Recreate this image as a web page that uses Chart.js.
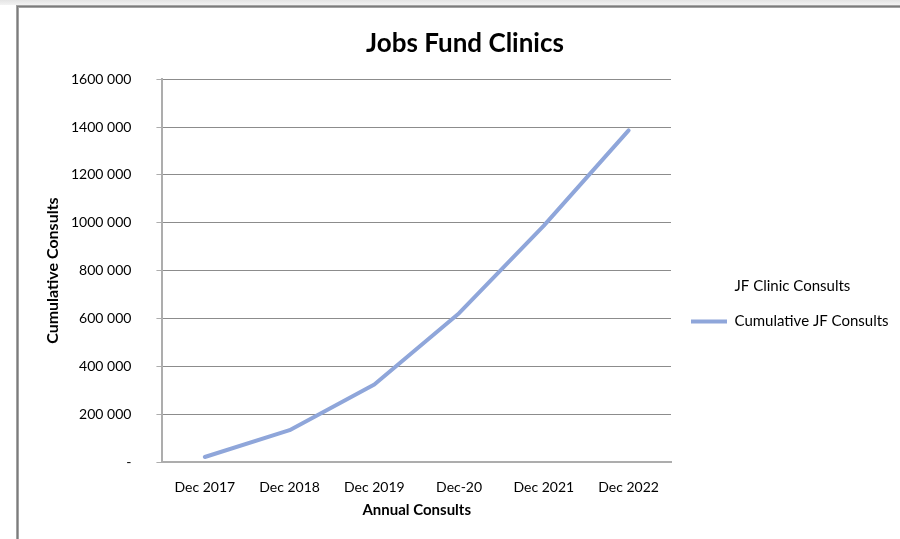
<!DOCTYPE html>
<html>
<head>
<meta charset="utf-8">
<script src="https://cdn.jsdelivr.net/npm/chart.js@4"></script>
<style>
  html, body { margin: 0; padding: 0; background: #fff; }
  #wrap { width: 900px; height: 539px; position: relative; }
</style>
</head>
<body>
<div id="wrap"><canvas id="c" width="900" height="539"></canvas></div>
<script>
// ---- data ----
const categories = ['Dec 2017', 'Dec 2018', 'Dec 2019', 'Dec-20', 'Dec 2021', 'Dec 2022'];
const cumulativeJFConsults = [21000, 133000, 324000, 622000, 988000, 1386000];
const seriesName = 'Cumulative JF Consults';
const legendHeading = 'JF Clinic Consults';
const chartTitle = 'Jobs Fund Clinics';
const xAxisTitle = 'Annual Consults';
const yAxisTitle = 'Cumulative Consults';
const yMin = 0, yMax = 1600000, yStep = 200000;

// ---- styles ----
const FONT = 'Lato, "Open Sans", "DejaVu Sans", sans-serif';
const lineColor = '#8FA6DA';
const gridColor = '#8C8C8C';
const axisColor = '#ADADAD';

function fmtTick(v) {
  if (v === 0) return '-';
  const th = Math.floor(v / 1000);
  const rest = String(v % 1000).padStart(3, '0');
  return th + ' ' + rest;
}

const framePlugin = {
  id: 'frame',
  beforeDraw(chart) {
    const ctx = chart.ctx;
    const W = chart.width, H = chart.height;
    ctx.save();
    ctx.fillStyle = '#ffffff';
    ctx.fillRect(0, 0, W, H);
    const g = ctx.createLinearGradient(0, 0, 0, 5);
    g.addColorStop(0, '#e4e4e4');
    g.addColorStop(1, '#f3f3f3');
    ctx.fillStyle = g;
    ctx.fillRect(0, 0, W, 5);
    ctx.fillStyle = '#a3a3a3';
    ctx.fillRect(16, 5, W - 16, 3);
    ctx.fillRect(16, 5, 3, H - 5);
    ctx.fillStyle = '#7c7c7c';
    ctx.fillRect(17, 6, W - 17, 1);
    ctx.fillRect(17, 6, 1, H - 6);
    ctx.restore();
  }
};

Chart.defaults.color = '#000';
Chart.defaults.font.family = FONT;

new Chart(document.getElementById('c'), {
  type: 'line',
  data: {
    labels: categories,
    datasets: [{
      label: seriesName,
      data: cumulativeJFConsults,
      borderColor: lineColor,
      backgroundColor: lineColor,
      borderWidth: 4,
      borderCapStyle: 'round',
      borderJoinStyle: 'round',
      pointRadius: 0,
      pointHoverRadius: 0,
      tension: 0,
      fill: false
    }]
  },
  options: {
    responsive: false,
    animation: false,
    devicePixelRatio: 1,
    layout: { padding: { top: 6, left: 40, right: 10, bottom: 16 } },
    plugins: {
      title: {
        display: true,
        text: chartTitle,
        color: '#000',
        font: { family: FONT, size: 26, weight: 'bold' },
        padding: { top: 22, bottom: 20 }
      },
      legend: {
        display: true,
        position: 'right',
        align: 'center',
        fullSize: false,
        maxWidth: 219,
        title: { display: true, text: '', padding: 24.5, font: { family: FONT, size: 15 } },
        labels: {
          color: '#000',
          font: { family: FONT, size: 15 },
          boxWidth: 36,
          boxHeight: 4,
          padding: 20,
          generateLabels(chart) {
            const items = Chart.defaults.plugins.legend.labels.generateLabels(chart);
            items.forEach(it => { it.lineWidth = 0; it.fillStyle = lineColor; it.strokeStyle = lineColor; });
            return [{ text: legendHeading, fillStyle: 'rgba(0,0,0,0)', strokeStyle: 'rgba(0,0,0,0)', lineWidth: 0, hidden: false, datasetIndex: -1 }].concat(items);
          }
        }
      },
      tooltip: { enabled: false }
    },
    scales: {
      x: {
        type: 'category',
        offset: true,
        grid: { display: false, drawTicks: false },
        border: { display: true, color: axisColor, width: 2 },
        ticks: { color: '#000', font: { family: FONT, size: 14 }, padding: 16.6, maxRotation: 0, autoSkip: false },
        title: { display: true, text: xAxisTitle, color: '#000', font: { family: FONT, size: 15, weight: 'bold' }, padding: { top: -11, bottom: 4 } }
      },
      y: {
        min: yMin,
        max: yMax,
        grid: {
          display: true,
          drawTicks: true,
          tickLength: 6,
          color: (ctx) => (ctx.tick && ctx.tick.value === 0) ? axisColor : gridColor,
          tickColor: axisColor,
          lineWidth: 1
        },
        border: { display: true, color: axisColor, width: 2 },
        ticks: {
          stepSize: yStep,
          color: '#000',
          font: { family: FONT, size: 14 },
          padding: 25,
          callback: (v) => fmtTick(v)
        },
        title: { display: true, text: yAxisTitle, color: '#000', font: { family: FONT, size: 16, weight: 'bold' }, padding: { top: 3.4, bottom: -16.6 } }
      }
    }
  },
  plugins: [framePlugin]
});
</script>
</body>
</html>
